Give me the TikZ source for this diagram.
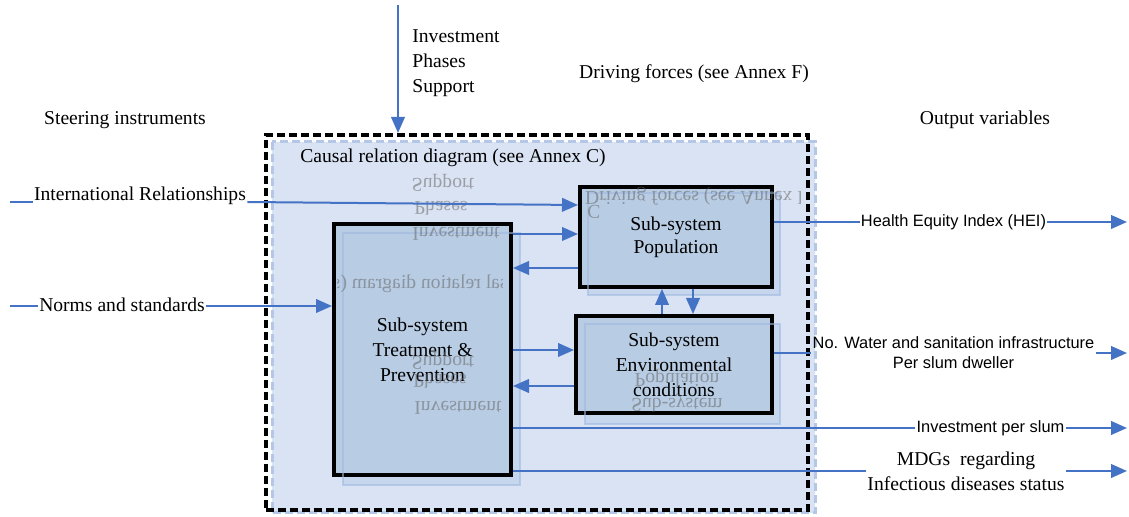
\documentclass[tikz,border=0pt]{standalone}
\usepackage{fontspec}
\setmainfont{Liberation Serif}
\newfontfamily\arialf{Liberation Sans}
\usepackage{graphicx}
\usetikzlibrary{arrows.meta}
\definecolor{bgfill}{HTML}{DAE3F3}
\definecolor{bgline}{HTML}{B4C7E7}
\definecolor{boxfill}{HTML}{B8CCE4}
\definecolor{shfill}{HTML}{C6D6EC}
\definecolor{shline}{HTML}{9FB9E0}
\definecolor{arrblue}{HTML}{4472C4}
\begin{document}
\begin{tikzpicture}[x=0.5pt,y=-0.5pt,
  lbl/.style={font=\fontsize{9.8pt}{12.5pt}\selectfont, inner sep=0.5pt},
  sl/.style={font=\arialf\fontsize{8.2pt}{10pt}\selectfont, inner sep=0.5pt},
  ghost/.style={font=\fontsize{9.8pt}{12.5pt}\selectfont, text=black!60, opacity=0.55, inner sep=0pt},
  sysbox/.style={draw=black, line width=2pt, fill=boxfill, align=center, inner sep=0pt},
  bl/.style={draw=arrblue, line width=1pt},
  arr/.style={bl, -{Triangle[length=8pt,width=6.8pt]}},
  shadowbox/.style={fill=shfill, draw=shline, line width=1.2pt}
]
\useasboundingbox (0,0) rectangle (1129,517);
% background region
\draw[bgline, fill=bgfill, line width=1.5pt, dash pattern=on 4pt off 2pt] (272,142) rectangle (815,513);
\node[draw=black, line width=2pt, dash pattern=on 4pt off 2pt, minimum width=271pt, minimum height=187.5pt, inner sep=0pt] (outer) at (537,322.5) {};

% level coordinates
\coordinate (L205) at (0,205);
\coordinate (L234) at (0,234);
\coordinate (L268) at (0,268);
\coordinate (L350) at (0,350);
\coordinate (L386) at (0,386);
\coordinate (X662) at (662,0);
\coordinate (X693) at (693,0);
\coordinate (Rend) at (1127,0);

% shadows
\fill[shfill] (343,233) rectangle (520,485);
\fill[shfill] (588,193) rectangle (780,295);
\fill[shfill] (585,324) rectangle (780,424);

% boxes
\node[sysbox, font=\fontsize{9.8pt}{12.5pt}\selectfont, minimum width=88.5pt, minimum height=125.5pt] (tp) at (422.5,349.5) {Sub-system\\Treatment \&\\Prevention};
\node[sysbox, font=\fontsize{9.8pt}{11.5pt}\selectfont, minimum width=96pt, minimum height=50pt] (pop) at (676,237) {Sub-system\\Population};
\node[sysbox, font=\fontsize{9.8pt}{12.5pt}\selectfont, minimum width=98pt, minimum height=48.5pt] (env) at (674,364.5) {Sub-system\\Environmental\\conditions};

% shadow outlines
\draw[shline, line width=1.2pt, opacity=0.6] (343,233) rectangle (520,485);
\draw[shline, line width=1.2pt, opacity=0.6] (588,193) rectangle (780,295);
\draw[shline, line width=1.2pt, opacity=0.6] (585,324) rectangle (780,424);

% ghost reflections
\node[ghost] (g1) at (443,183) {\scalebox{1}[-1]{Support}};
\node[ghost] (g2) at (441,208) {\scalebox{1}[-1]{Phases}};
\node[ghost] (g3) at (456,234) {\scalebox{1}[-1]{Investment}};
\node[ghost] (g4) at (443,361) {\scalebox{1}[-1]{Support}};
\node[ghost] (g5) at (440,381) {\scalebox{1}[-1]{Phases}};
\node[ghost] (g6) at (458,408) {\scalebox{1}[-1]{Investment}};
\node[ghost] (g7) at (677,378) {\scalebox{1}[-1]{Population}};
\node[ghost] (g8) at (677,403) {\scalebox{1}[-1]{Sub-system}};
\node[ghost] (g9) at (594,212) {\scalebox{1}[-1]{C}};
\begin{scope}
  \clip (337,260) rectangle (502,300);
  \node[ghost] (g10) at (386.5,284) {\scalebox{-1}[1]{Causal relation diagram (see Annex C)}};
\end{scope}
\begin{scope}
  \clip (583,186) rectangle (800,205);
  \node[ghost] (g11) at (700,196) {\scalebox{1}[-1]{Driving forces (see Annex F)}};
\end{scope}

% labels
\node[lbl] (steer) at (125,120) {Steering instruments};
\node[lbl] (outv) at (985,120) {Output variables};
\node[lbl] (drive) at (694,74) {Driving forces (see Annex F)};
\node[lbl, anchor=west, align=left] (ips) at (411,63) {Investment\\Phases\\Support};
\node[lbl] (causal) at (453,158) {Causal relation diagram (see Annex C)};
\node[lbl] (irl) at (140,196) {International Relationships};
\node[lbl] (ns) at (122,305) {Norms and standards};
\node[sl] (hei) at (953.5,222) {Health Equity Index (HEI)};
\node[sl, align=center] (water) at (953.5,353) {No. Water and sanitation infrastructure\\Per slum dweller};
\node[sl] (invs) at (990.5,428) {Investment per slum};
\node[lbl, align=center] (mdg) at (966,471) {MDGs\ \ regarding\\Infectious diseases status};

% top arrow
\coordinate (topin) at (398,5);
\draw[arr] (topin) -- (topin |- outer.north);

% left inputs
\coordinate (irlS) at (10,202);
\draw[bl] (irlS) -- (irl.west |- irlS);
\draw[arr] (irl.east |- irlS) -- (pop.west |- L205);
\coordinate (nsS) at (10,306);
\draw[bl] (nsS) -- (ns.west |- nsS);
\draw[arr] (ns.east |- nsS) -- (tp.west |- nsS);

% internal connectors
\draw[arr] (tp.east |- L234) -- (pop.west |- L234);
\draw[arr] (pop.west |- L268) -- (tp.east |- L268);
\draw[arr] (tp.east |- L350) -- (env.west |- L350);
\draw[arr] (env.west |- L386) -- (tp.east |- L386);
\draw[arr] (env.north -| X662) -- (pop.south -| X662);
\draw[arr] (pop.south -| X693) -- (env.north -| X693);

% outputs
\draw[bl] (pop.east |- hei.west) -- (hei.west);
\draw[arr] (hei.east) -- (hei.east -| Rend);
\draw[bl] (env.east |- water.west) -- (water.west);
\draw[arr] (water.east) -- (water.east -| Rend);
\draw[bl] (tp.east |- invs.west) -- (invs.west);
\draw[arr] (invs.east) -- (invs.east -| Rend);
\draw[bl] (tp.east |- mdg.west) -- (mdg.west);
\draw[arr] (mdg.east) -- (mdg.east -| Rend);
\end{tikzpicture}
\end{document}
